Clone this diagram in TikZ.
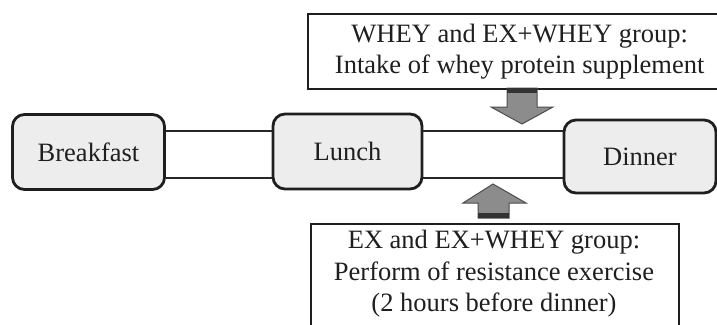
\documentclass[tikz,border=0pt]{standalone}
\usepackage{fontspec}
\setmainfont{Liberation Serif}
\begin{document}
\begin{tikzpicture}[x=1pt,y=-1pt,
  meal/.style={draw=black!88, line width=2.8pt, fill=black!7, rounded corners=12pt,
    font=\fontsize{26.5}{30}\selectfont, text=black!88, inner sep=0pt},
  infobox/.style={draw=black!88, line width=2.4pt, fill=white, inner sep=0pt,
    font=\fontsize{26.5}{31}\selectfont, text=black!88, align=center},
  conn/.style={draw=black!85, line width=1.7pt},
  blockarrow/.style={draw=black!70, line width=1pt, fill=black!45, line join=miter},
  band/.style={fill=black!80}]
\useasboundingbox (0,0) rectangle (717,324);
\clip (0,0) rectangle (717,324);
% meal boxes
\node[meal, minimum width=152pt, minimum height=75pt] (b) at (88.5,152) {Breakfast};
\node[meal, minimum width=149pt, minimum height=75pt] (l) at (347.5,151.5) {Lunch};
\node[meal, minimum width=152pt, minimum height=73pt] (d) at (640,156.5) {Dinner};
% connecting lines
\draw[conn] (b.east |- 0,131) -- (l.west |- 0,131);
\draw[conn] (b.east |- 0,178) -- (l.west |- 0,178);
\draw[conn] (l.east |- 0,131) -- (d.west |- 0,131);
\draw[conn] (l.east |- 0,178) -- (d.west |- 0,178);
% info boxes
\node[infobox, minimum width=423pt, minimum height=75pt, anchor=north west] (top) at (307,13)
  {WHEY and EX+WHEY group:\\Intake of whey protein supplement};
\node[infobox, minimum width=368pt, minimum height=130pt, anchor=north west] (bot) at (310,223)
  {};
\node[font=\fontsize{26.5}{31.5}\selectfont, text=black!88, align=center, anchor=north] (bottext) at (494,227)
  {EX and EX+WHEY group:\\Perform of resistance exercise\\(2 hours before dinner)};
% down arrow
\draw[blockarrow] (507,88) -- (537,88) -- (537,107) -- (553,107) -- (522,124) -- (491,107) -- (507,107) -- cycle;
\fill[band] (507,88) rectangle (537,93);
% up arrow
\draw[blockarrow] (478,218) -- (509,218) -- (509,203) -- (526,203) -- (493,184) -- (463,203) -- (478,203) -- cycle;
\fill[band] (478,213) rectangle (509,218);
\end{tikzpicture}
\end{document}
